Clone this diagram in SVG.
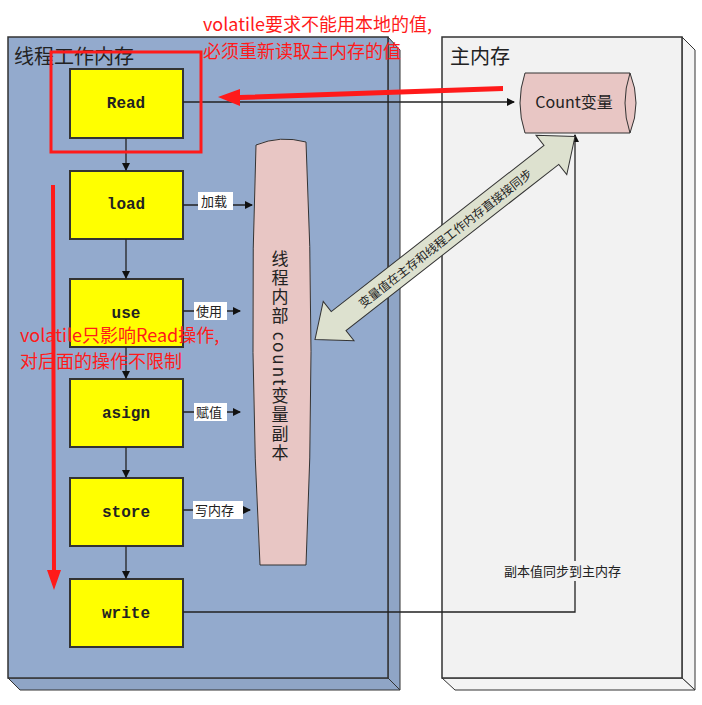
<svg xmlns="http://www.w3.org/2000/svg" width="702" height="705" viewBox="0 0 702 705">
<style>
.box{fill:#ffff00;stroke:#333;stroke-width:2}
.bt{font-family:"Liberation Mono",monospace;font-size:16px;font-weight:bold;text-anchor:middle;fill:#222}
.cn{font-family:"Noto Sans CJK SC",sans-serif;fill:#222}
.ln{stroke:#222;stroke-width:1.3;fill:none}
.red{font-family:"Noto Sans CJK SC",sans-serif;font-size:18px;fill:#ff1a1a}
</style>
<defs>
<marker id="ah" markerWidth="8" markerHeight="8" refX="7" refY="4" orient="auto" markerUnits="userSpaceOnUse"><path d="M0,0 L8,4 L0,8z" fill="#111"/></marker>
</defs>
<rect width="702" height="705" fill="#fff"/>
<g id="thread-mem">
<path d="M388,37 L400,50 L400,690 L388,678z" fill="#8fa5c6" stroke="#333"/>
<path d="M8,678 L388,678 L400,690 L20,690z" fill="#8fa5c6" stroke="#333"/>
<rect x="8" y="37" width="380" height="641" fill="#93aacd" stroke="#333" stroke-width="1.5"/>
<text x="14" y="64" class="cn" font-size="20">线程工作内存</text>
</g>
<g id="main-mem">
<path d="M682,37 L695,50 L695,690 L682,678z" fill="#f4f4f4" stroke="#333"/>
<path d="M442,678 L682,678 L695,690 L455,690z" fill="#f4f4f4" stroke="#333"/>
<rect x="442" y="37" width="240" height="641" fill="#f2f2f2" stroke="#333" stroke-width="1.5"/>
<text x="450" y="64" class="cn" font-size="20">主内存</text>
</g>
<g id="copy">
<path d="M256,145 Q280,135 306,142 Q316,350 306,565 L260,565 Q248,350 256,145z" fill="#e8c6c4" stroke="#333"/>
<text x="280" y="250" class="cn" font-size="17" letter-spacing="2" writing-mode="tb" glyph-orientation-vertical="0">线程内部 count变量副本</text>
</g>
<g id="count">
<path d="M525,73 L630,73 Q642,103 630,133 L525,133 Q515,103 525,73z" fill="#e8c6c4" stroke="#333"/>
<path d="M630,73 Q620,103 630,133" fill="none" stroke="#333"/>
<text x="574" y="108" class="cn" font-size="16" text-anchor="middle">Count变量</text>
</g>
<g id="boxes">
<g id="read"><rect class="box" x="70" y="69" width="113" height="69"/><text class="bt" x="126" y="108">Read</text></g>
<g id="load"><rect class="box" x="70" y="171" width="113" height="68"/><text class="bt" x="126" y="209">load</text></g>
<g id="use"><rect class="box" x="70" y="279" width="113" height="68"/><text class="bt" x="126" y="318">use</text></g>
<g id="asign"><rect class="box" x="70" y="379" width="113" height="68"/><text class="bt" x="126" y="418">asign</text></g>
<g id="store"><rect class="box" x="70" y="478" width="113" height="68"/><text class="bt" x="126" y="517">store</text></g>
<g id="write"><rect class="box" x="70" y="579" width="113" height="68"/><text class="bt" x="126" y="618">write</text></g>
</g>
<g id="connectors">
<line class="ln" x1="126" y1="138" x2="126" y2="170" marker-end="url(#ah)"/>
<line class="ln" x1="126" y1="239" x2="126" y2="278" marker-end="url(#ah)"/>
<line class="ln" x1="126" y1="347" x2="126" y2="378" marker-end="url(#ah)"/>
<line class="ln" x1="126" y1="447" x2="126" y2="477" marker-end="url(#ah)"/>
<line class="ln" x1="126" y1="546" x2="126" y2="578" marker-end="url(#ah)"/>
<line class="ln" x1="183" y1="102" x2="514" y2="102" marker-end="url(#ah)"/>
<line class="ln" x1="183" y1="205" x2="252" y2="205" marker-end="url(#ah)"/>
<line class="ln" x1="183" y1="311" x2="240" y2="311" marker-end="url(#ah)"/>
<line class="ln" x1="183" y1="412" x2="240" y2="412" marker-end="url(#ah)"/>
<line class="ln" x1="183" y1="510" x2="250" y2="510" marker-end="url(#ah)"/>
<polyline class="ln" points="183,612 575,612 575,135" marker-end="url(#ah)"/>
<rect x="198" y="192" width="35" height="18" fill="#fff"/><text x="201" y="206" class="cn" font-size="13">加载</text>
<rect x="194" y="302" width="33" height="18" fill="#fff"/><text x="196" y="316" class="cn" font-size="13">使用</text>
<rect x="194" y="403" width="33" height="18" fill="#fff"/><text x="196" y="417" class="cn" font-size="13">赋值</text>
<rect x="193" y="501" width="50" height="18" fill="#fff"/><text x="195" y="515" class="cn" font-size="13">写内存</text>
<rect x="500" y="561" width="150" height="20" fill="#f2f2f2"/><text x="504" y="576" class="cn" font-size="13">副本值同步到主内存</text>
<g transform="translate(445,238) rotate(-38)">
<path d="M-165,0 L-135,-25 L-135,-12 L135,-12 L135,-25 L165,0 L135,25 L135,12 L-135,12 L-135,25z" fill="#dde1cf" stroke="#333"/>
<text x="0" y="5" class="cn" font-size="12" text-anchor="middle">变量值在主存和线程工作内存直接接同步</text>
</g>
</g>
<g id="annotations">
<rect x="51" y="52" width="150" height="100" fill="none" stroke="#ff1a1a" stroke-width="3"/>
<path d="M503,86 L240,95 L240,89 L218,97 L240,106 L240,100 L503,91z" fill="#ff1a1a"/>
<path d="M51,185 L55,185 L56,570 L61,570 L54,590 L47,570 L52,570z" fill="#ff1a1a"/>
<text x="203" y="31" class="red">volatile要求不能用本地的值,</text>
<text x="203" y="58" class="red">必须重新读取主内存的值</text>
<text x="20" y="342" class="red">volatile只影响Read操作,</text>
<text x="20" y="368" class="red">对后面的操作不限制</text>
</g>
</svg>
